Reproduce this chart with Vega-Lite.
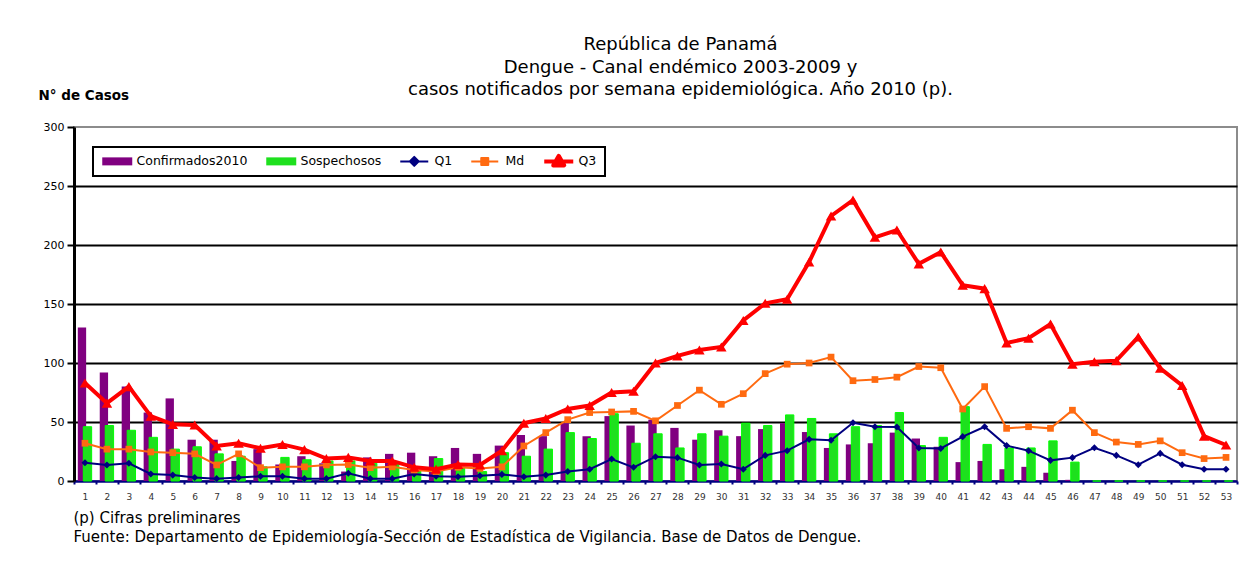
{
  "$schema": "https://vega.github.io/schema/vega-lite/v6.json",
  "width": 1163,
  "height": 354,
  "autosize": {"type": "none"},
  "padding": {"left": 74, "top": 127, "right": 14, "bottom": 82},
  "background": "white",
  "config": {"view": {"stroke": "#8c8c8c", "strokeWidth": 2}, "font": "DejaVu Sans"},
  "title": {
    "text": ["República de Panamá", "Dengue - Canal endémico 2003-2009 y", "casos notificados por semana epidemiológica. Año 2010 (p)."],
    "anchor": "middle", "frame": "group", "dx": 25, "offset": -29,
    "fontSize": 18, "fontWeight": "normal", "font": "DejaVu Sans", "lineHeight": 22.5, "color": "black", "baseline": "bottom"
  },
  "data": {"values": [
    {"semana": 1, "Confirmados2010": 130, "Sospechosos": 46, "Q1": 15.5, "Md": 32, "Q3": 83},
    {"semana": 2, "Confirmados2010": 92, "Sospechosos": 47, "Q1": 13.6, "Md": 27, "Q3": 66},
    {"semana": 3, "Confirmados2010": 80, "Sospechosos": 43, "Q1": 15, "Md": 27, "Q3": 80},
    {"semana": 4, "Confirmados2010": 58, "Sospechosos": 37, "Q1": 6, "Md": 24.6, "Q3": 55},
    {"semana": 5, "Confirmados2010": 70, "Sospechosos": 27, "Q1": 5, "Md": 24, "Q3": 48},
    {"semana": 6, "Confirmados2010": 35, "Sospechosos": 29, "Q1": 3, "Md": 23, "Q3": 47.5},
    {"semana": 7, "Confirmados2010": 35, "Sospechosos": 23, "Q1": 2, "Md": 13.6, "Q3": 29.7},
    {"semana": 8, "Confirmados2010": 17, "Sospechosos": 21, "Q1": 3, "Md": 23, "Q3": 32},
    {"semana": 9, "Confirmados2010": 27, "Sospechosos": 12, "Q1": 4, "Md": 11.3, "Q3": 27.7},
    {"semana": 10, "Confirmados2010": 14, "Sospechosos": 20, "Q1": 4, "Md": 12, "Q3": 31},
    {"semana": 11, "Confirmados2010": 21, "Sospechosos": 18, "Q1": 2, "Md": 12, "Q3": 26.6},
    {"semana": 12, "Confirmados2010": 15, "Sospechosos": 17, "Q1": 2, "Md": 13.6, "Q3": 19},
    {"semana": 13, "Confirmados2010": 8, "Sospechosos": 17, "Q1": 6.5, "Md": 14, "Q3": 20},
    {"semana": 14, "Confirmados2010": 20, "Sospechosos": 15, "Q1": 2, "Md": 11.3, "Q3": 17},
    {"semana": 15, "Confirmados2010": 23, "Sospechosos": 14, "Q1": 2, "Md": 12, "Q3": 17},
    {"semana": 16, "Confirmados2010": 24, "Sospechosos": 9, "Q1": 6, "Md": 9.3, "Q3": 11.6},
    {"semana": 17, "Confirmados2010": 21, "Sospechosos": 19, "Q1": 4, "Md": 8, "Q3": 10},
    {"semana": 18, "Confirmados2010": 28, "Sospechosos": 11, "Q1": 3.6, "Md": 11.6, "Q3": 14},
    {"semana": 19, "Confirmados2010": 23, "Sospechosos": 8, "Q1": 4.5, "Md": 10.7, "Q3": 13.6},
    {"semana": 20, "Confirmados2010": 30, "Sospechosos": 24, "Q1": 5.6, "Md": 12, "Q3": 25.7},
    {"semana": 21, "Confirmados2010": 39, "Sospechosos": 21, "Q1": 3.6, "Md": 29.7, "Q3": 49},
    {"semana": 22, "Confirmados2010": 38, "Sospechosos": 27, "Q1": 5, "Md": 41, "Q3": 53},
    {"semana": 23, "Confirmados2010": 49, "Sospechosos": 41, "Q1": 8, "Md": 52, "Q3": 61},
    {"semana": 24, "Confirmados2010": 38, "Sospechosos": 36, "Q1": 10, "Md": 58, "Q3": 64},
    {"semana": 25, "Confirmados2010": 55, "Sospechosos": 57, "Q1": 18.6, "Md": 58.5, "Q3": 75},
    {"semana": 26, "Confirmados2010": 47, "Sospechosos": 32, "Q1": 11.6, "Md": 59, "Q3": 76},
    {"semana": 27, "Confirmados2010": 52, "Sospechosos": 40, "Q1": 20.6, "Md": 51, "Q3": 100},
    {"semana": 28, "Confirmados2010": 45, "Sospechosos": 28, "Q1": 19.8, "Md": 64, "Q3": 106},
    {"semana": 29, "Confirmados2010": 35, "Sospechosos": 40, "Q1": 13.6, "Md": 77, "Q3": 111},
    {"semana": 30, "Confirmados2010": 43, "Sospechosos": 38, "Q1": 14.4, "Md": 65, "Q3": 113.6},
    {"semana": 31, "Confirmados2010": 38, "Sospechosos": 49, "Q1": 10, "Md": 74, "Q3": 136},
    {"semana": 32, "Confirmados2010": 44, "Sospechosos": 47, "Q1": 21.7, "Md": 91, "Q3": 150.6},
    {"semana": 33, "Confirmados2010": 49, "Sospechosos": 56, "Q1": 25.7, "Md": 99, "Q3": 154},
    {"semana": 34, "Confirmados2010": 41.5, "Sospechosos": 53, "Q1": 35.3, "Md": 100, "Q3": 185.6},
    {"semana": 35, "Confirmados2010": 28, "Sospechosos": 40, "Q1": 34.5, "Md": 105, "Q3": 224.6},
    {"semana": 36, "Confirmados2010": 31, "Sospechosos": 46, "Q1": 49.4, "Md": 85, "Q3": 238},
    {"semana": 37, "Confirmados2010": 32, "Sospechosos": 47, "Q1": 46, "Md": 86, "Q3": 206.5},
    {"semana": 38, "Confirmados2010": 41, "Sospechosos": 58, "Q1": 45.8, "Md": 88, "Q3": 212.7},
    {"semana": 39, "Confirmados2010": 36, "Sospechosos": 30, "Q1": 28, "Md": 97, "Q3": 184},
    {"semana": 40, "Confirmados2010": 29, "Sospechosos": 37, "Q1": 27.6, "Md": 96, "Q3": 194},
    {"semana": 41, "Confirmados2010": 16, "Sospechosos": 63, "Q1": 37.6, "Md": 61, "Q3": 166},
    {"semana": 42, "Confirmados2010": 17, "Sospechosos": 31, "Q1": 46, "Md": 80, "Q3": 163},
    {"semana": 43, "Confirmados2010": 10, "Sospechosos": 28, "Q1": 30, "Md": 44.6, "Q3": 117},
    {"semana": 44, "Confirmados2010": 12, "Sospechosos": 28, "Q1": 25.7, "Md": 46, "Q3": 121},
    {"semana": 45, "Confirmados2010": 7, "Sospechosos": 34, "Q1": 17.5, "Md": 44.6, "Q3": 133},
    {"semana": 46, "Confirmados2010": 1, "Sospechosos": 16, "Q1": 19.8, "Md": 60, "Q3": 99},
    {"semana": 47, "Confirmados2010": 0, "Sospechosos": 0, "Q1": 28.2, "Md": 41, "Q3": 101},
    {"semana": 48, "Confirmados2010": 0, "Sospechosos": 0, "Q1": 21.7, "Md": 33, "Q3": 102},
    {"semana": 49, "Confirmados2010": 0, "Sospechosos": 0, "Q1": 13.8, "Md": 31, "Q3": 122},
    {"semana": 50, "Confirmados2010": 0, "Sospechosos": 0, "Q1": 23.4, "Md": 34, "Q3": 95.5},
    {"semana": 51, "Confirmados2010": 0, "Sospechosos": 0, "Q1": 13.8, "Md": 24, "Q3": 81},
    {"semana": 52, "Confirmados2010": 0, "Sospechosos": 0, "Q1": 10, "Md": 19, "Q3": 38},
    {"semana": 53, "Confirmados2010": 0, "Sospechosos": 0, "Q1": 10, "Md": 20, "Q3": 30.5}
  ]},
  "transform": [{"fold": ["Confirmados2010", "Sospechosos", "Q1", "Md", "Q3"], "as": ["serie", "casos"]}],
  "encoding": {
    "x": {
      "field": "semana", "type": "ordinal",
      "scale": {"paddingInner": 0, "paddingOuter": 0},
      "axis": {
        "title": ["(p) Cifras preliminares", "Fuente: Departamento de Epidemiología-Sección de Estadística de Vigilancia. Base de Datos de Dengue."],
        "titleAnchor": "start", "titleAlign": "left", "titleX": -1, "titleY": 29, "titleBaseline": "top",
        "titleFontSize": 15, "titleFontWeight": "normal", "titleFont": "DejaVu Sans", "titleLineHeight": 19, "titleColor": "black",
        "labelAngle": 0, "labelFontSize": 9, "labelColor": "#333333", "labelPadding": 8,
        "tickBand": "extent", "tickSize": 3, "tickColor": "#000080", "tickWidth": 2,
        "domainColor": "#000080", "domainWidth": 2.5, "grid": false
      }
    },
    "y": {
      "field": "casos", "type": "quantitative",
      "scale": {"domain": [0, 300], "nice": false},
      "axis": {
        "title": "N° de Casos", "titleAngle": 0, "titleAlign": "left", "titleBaseline": "middle",
        "titleX": -36, "titleY": -32, "titleFontSize": 13.5, "titleFontWeight": "bold", "titleFont": "DejaVu Sans", "titleColor": "black",
        "values": [0, 50, 100, 150, 200, 250, 300],
        "labelFontSize": 11, "labelColor": "black", "labelPadding": 3,
        "tickSize": 7, "tickColor": "black", "tickWidth": 2,
        "domainColor": "black", "domainWidth": 3,
        "gridColor": {"condition": {"test": "datum.value === 0 || datum.value === 300", "value": "transparent"}, "value": "black"},
        "gridWidth": 2, "gridOpacity": 1
      }
    },
    "color": {
      "field": "serie", "type": "nominal",
      "scale": {"domain": ["Confirmados2010", "Sospechosos", "Q1", "Md", "Q3"], "range": ["#800080", "#1ee01e", "#000080", "#ff6a10", "#ff0000"]},
      "legend": {
        "title": null, "orient": "none", "legendX": 19, "legendY": 20,
        "direction": "horizontal", "columns": 5, "padding": 8,
        "strokeColor": "black", "fillColor": "white",
        "labelFontSize": 12.5, "labelFont": "DejaVu Sans", "labelColor": "black", "labelOffset": 23,
        "columnPadding": 17, "symbolSize": 100,
        "encode": {
          "legend": {"update": {"strokeWidth": {"value": 2}}},
          "symbols": {"update": {
            "size": {"value": 100},
            "shape": {"signal": "(datum.value === 'Confirmados2010' || datum.value === 'Sospechosos') ? 'M-1,-0.8H5V0.8H-1Z' : datum.value === 'Q1' ? 'M-1,0H4.6M1.8,-0.9L2.7,0L1.8,0.9L0.9,0Z' : datum.value === 'Md' ? 'M-1,0H4.4M1,-0.7H2.4V0.7H1Z' : 'M-1,0H4.8M1.9,-1.1L3,0.8H0.8Z'"},
            "fill": {"signal": "scale('color', datum.value)"},
            "stroke": {"signal": "scale('color', datum.value)"},
            "strokeWidth": {"signal": "datum.value === 'Q3' ? 4 : (datum.value === 'Q1' || datum.value === 'Md') ? 2 : 0"},
            "strokeJoin": {"value": "round"},
            "opacity": {"value": 1}, "fillOpacity": {"value": 1}, "strokeOpacity": {"value": 1}
          }}
        }
      }
    }
  },
  "layer": [
    {"transform": [{"filter": "datum.serie === 'Confirmados2010'"}], "mark": {"type": "bar", "width": {"band": 0.38}, "xOffset": -3}},
    {"transform": [{"filter": "datum.serie === 'Sospechosos'"}], "mark": {"type": "bar", "width": {"band": 0.38}, "xOffset": 2.5, "stroke": "#00ff00", "strokeWidth": 1}},
    {"transform": [{"filter": "datum.serie === 'Q1'"}], "mark": {"type": "line", "strokeWidth": 2, "point": {"shape": "diamond", "size": 50, "filled": true, "opacity": 1}}},
    {"transform": [{"filter": "datum.serie === 'Md'"}], "mark": {"type": "line", "strokeWidth": 2, "point": {"shape": "square", "size": 45, "filled": true, "opacity": 1}}},
    {"transform": [{"filter": "datum.serie === 'Q3'"}], "mark": {"type": "line", "strokeWidth": 4, "point": {"shape": "triangle-up", "size": 110, "filled": true, "opacity": 1}}}
  ]
}
